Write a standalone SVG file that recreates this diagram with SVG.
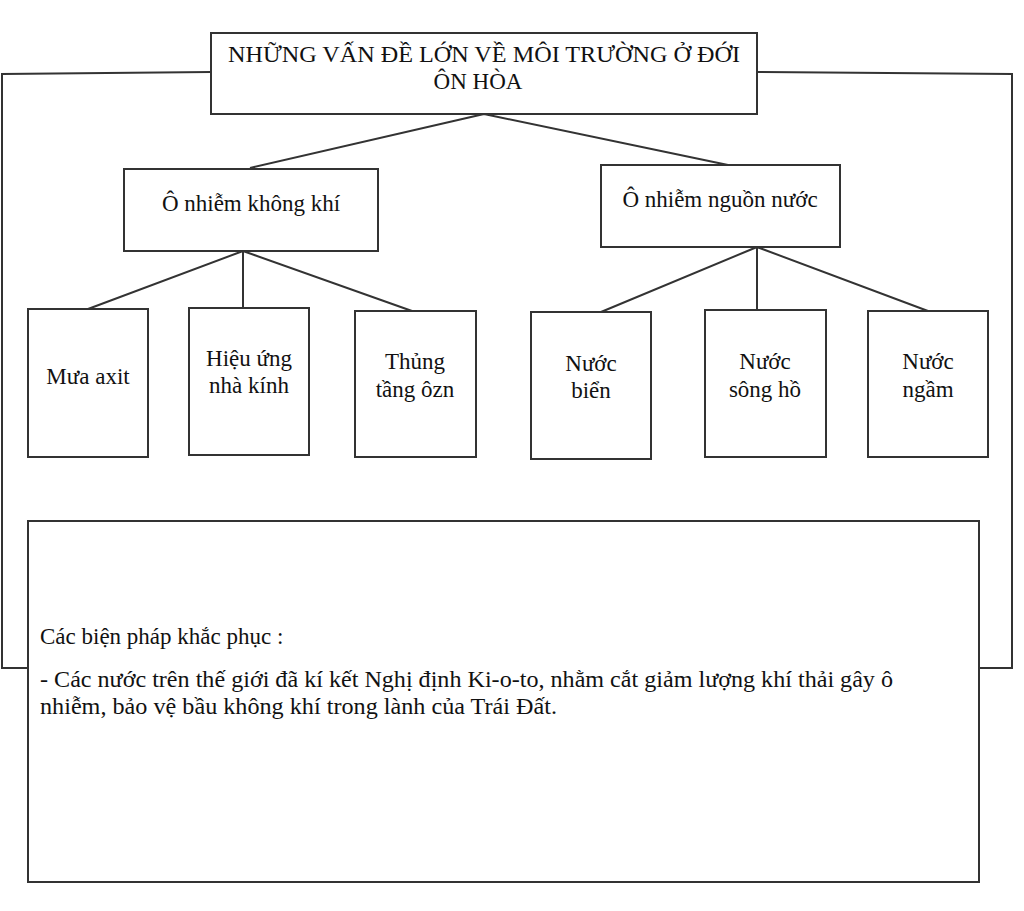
<svg xmlns="http://www.w3.org/2000/svg" width="1024" height="911" viewBox="0 0 1024 911">
<style>
rect{fill:#fff;stroke:#333;stroke-width:2}
.c{fill:none;stroke:#333;stroke-width:2}
text{font-family:"Liberation Serif",serif;font-size:23px;fill:#111}
.m{text-anchor:middle}
</style>
<rect x="0" y="0" width="1024" height="911" style="stroke:none"/>
<g id="connectors">
<path class="c" d="M211 72 L2 74 L2 668 L28 668"/>
<path class="c" d="M757 72 L1012 74 L1012 668 L979 668"/>
<path class="c" d="M484 114 L250 168 M484 114 L728 165"/>
<path class="c" d="M243 251 L88 309 M243 251 L243 308 M243 251 L412 311"/>
<path class="c" d="M757 247 L601 312 M757 247 L757 310 M757 247 L928 311"/>
</g>
<g id="title"><rect x="211" y="33" width="546" height="81"/>
<text x="228" y="62" textLength="512" lengthAdjust="spacingAndGlyphs">NHỮNG VẤN ĐỀ LỚN VỀ MÔI TRƯỜNG Ở ĐỚI</text>
<text class="m" x="478" y="89">ÔN HÒA</text></g>
<g id="air"><rect x="124" y="169" width="254" height="82"/><text class="m" x="251" y="211">Ô nhiễm không khí</text></g>
<g id="water"><rect x="601" y="165" width="239" height="82"/><text class="m" x="720" y="207">Ô nhiễm nguồn nước</text></g>
<g id="n1"><rect x="28" y="309" width="120" height="148"/><text class="m" x="88" y="384">Mưa axit</text></g>
<g id="n2"><rect x="189" y="308" width="120" height="147"/><text class="m" x="249" y="366">Hiệu ứng</text><text class="m" x="249" y="393">nhà kính</text></g>
<g id="n3"><rect x="355" y="311" width="121" height="146"/><text class="m" x="415" y="369">Thủng</text><text class="m" x="415" y="397">tầng ôzn</text></g>
<g id="n4"><rect x="531" y="312" width="120" height="147"/><text class="m" x="591" y="371">Nước</text><text class="m" x="591" y="398">biển</text></g>
<g id="n5"><rect x="705" y="310" width="121" height="147"/><text class="m" x="765" y="369">Nước</text><text class="m" x="765" y="397">sông hồ</text></g>
<g id="n6"><rect x="868" y="311" width="120" height="146"/><text class="m" x="928" y="369">Nước</text><text class="m" x="928" y="397">ngầm</text></g>
<g id="measures"><rect x="28" y="521" width="951" height="361"/>
<text x="40" y="644">Các biện pháp khắc phục :</text>
<text x="40" y="687" textLength="853" lengthAdjust="spacingAndGlyphs">- Các nước trên thế giới đã kí kết Nghị định Ki-o-to, nhằm cắt giảm lượng khí thải gây ô</text>
<text x="40" y="714" textLength="517" lengthAdjust="spacingAndGlyphs">nhiễm, bảo vệ bầu không khí trong lành của Trái Đất.</text></g>
</svg>
